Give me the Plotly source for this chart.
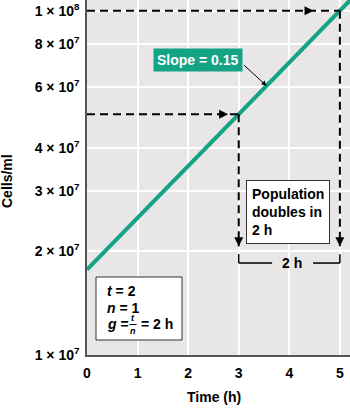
import plotly.graph_objects as go
import math

# ---- data ----
time_h = [0, 3, 5, 5.2]
cells_per_ml = [1.77e7, 5e7, 1e8, 1.072e8]

x_ticks = [0, 1, 2, 3, 4, 5]
y_ticks = [1e7, 2e7, 3e7, 4e7, 6e7, 8e7, 1e8]
y_tick_text = ["1 × 10<sup>7</sup>", "2 × 10<sup>7</sup>", "3 × 10<sup>7</sup>",
               "4 × 10<sup>7</sup>", "6 × 10<sup>7</sup>", "8 × 10<sup>7</sup>",
               "1 × 10<sup>8</sup>"]

doubling_time = [3, 5]          # h
doubling_cells = [5e7, 1e8]     # cells/ml
arrow_tip_cells = 2.07e7        # where vertical dashed arrows end
horiz_arrow_tip = [2.79, 4.48]  # x of arrowheads on horizontal dashed lines
slope_point = (3.55, 6.05e7)

GREEN = "#14a385"
FONT = "Liberation Sans"

fig = go.Figure()
fig.add_trace(go.Scatter(x=time_h, y=cells_per_ml, mode="lines",
                         line=dict(color=GREEN, width=4), hoverinfo="skip",
                         showlegend=False))

shapes = []
annotations = []


def ann(**kw):
    kw.setdefault("xanchor", "center")
    kw.setdefault("yanchor", "middle")
    annotations.append(kw)


dash = dict(color="black", width=2, dash="8px,5px")
for t, c, hx in zip(doubling_time, doubling_cells, horiz_arrow_tip):
    shapes.append(dict(type="line", xref="x", yref="y", x0=0, x1=t, y0=c, y1=c, line=dash))
    shapes.append(dict(type="line", xref="x", yref="y", x0=t, x1=t, y0=c, y1=arrow_tip_cells, line=dash))
    ann(x=hx, y=math.log10(c), xref="x", yref="y", text="", showarrow=True,
        ax=-8, ay=0, arrowhead=2, arrowsize=1.2, arrowwidth=1.5, arrowcolor="black")
    ann(x=t, y=math.log10(arrow_tip_cells), xref="x", yref="y", text="", showarrow=True,
        ax=0, ay=-8, arrowhead=2, arrowsize=1.2, arrowwidth=1.5, arrowcolor="black")

# bracket "2 h"
br_top, br_bot = 0.284, 0.259
for t in doubling_time:
    shapes.append(dict(type="line", xref="x", yref="paper", x0=t, x1=t, y0=br_top, y1=br_bot,
                       line=dict(color="black", width=1.5)))
shapes.append(dict(type="line", xref="x", yref="paper", x0=doubling_time[0], x1=3.66, y0=br_bot, y1=br_bot,
                   line=dict(color="black", width=1.5)))
shapes.append(dict(type="line", xref="x", yref="paper", x0=4.47, x1=doubling_time[1], y0=br_bot, y1=br_bot,
                   line=dict(color="black", width=1.5)))
ann(x=4.05, y=br_bot, xref="x", yref="paper", text="<b>2 h</b>", showarrow=False,
    font=dict(family=FONT, size=14, color="black"))

# Population box
ann(x=0.764, y=0.404, xref="paper", yref="paper",
    text="<b>Population<br>doubles in<br>2 h</b>", align="left", showarrow=False,
    bgcolor="white", bordercolor="#333", borderwidth=1, borderpad=5,
    font=dict(family=FONT, size=14, color="black"))

# Slope label
ann(x=0.422, y=0.832, xref="paper", yref="paper", text="<b>Slope = 0.15</b>",
    showarrow=False, bgcolor=GREEN, borderpad=3,
    font=dict(family=FONT, size=14, color="white"))
ann(x=slope_point[0], y=math.log10(slope_point[1]), xref="x", yref="y", text="",
    showarrow=True, ax=-24, ay=-22, arrowhead=2, arrowsize=1, arrowwidth=1,
    arrowcolor="black")


def px_x(p):
    return (p - 87) / 263


def px_y(p):
    return 1 - p / 355


# bottom-left box
shapes.append(dict(type="rect", xref="paper", yref="paper", x0=px_x(96), x1=px_x(182),
                   y0=px_y(340), y1=px_y(277),
                   fillcolor="white", line=dict(color="#333", width=1), layer="above"))
for txt, py in [("<b><i>t</i> = 2</b>", 291), ("<b><i>n</i> = 1</b>", 307.5), ("<b><i>g</i> =</b>", 324)]:
    ann(x=px_x(105), y=px_y(py), xref="paper", yref="paper", text=txt,
        xanchor="left", showarrow=False, font=dict(family=FONT, size=14, color="black"))
ann(x=px_x(133), y=px_y(318), xref="paper", yref="paper", text="<b><i>t</i></b>",
    showarrow=False, font=dict(family=FONT, size=9, color="black"))
ann(x=px_x(133), y=px_y(331), xref="paper", yref="paper", text="<b><i>n</i></b>",
    showarrow=False, font=dict(family=FONT, size=9, color="black"))
shapes.append(dict(type="line", xref="paper", yref="paper", x0=px_x(129.5), x1=px_x(136.5),
                   y0=px_y(324.5), y1=px_y(324.5), line=dict(color="black", width=1)))
ann(x=px_x(139), y=px_y(324), xref="paper", yref="paper", text="<b>= 2 h</b>",
    xanchor="left", showarrow=False, font=dict(family=FONT, size=14, color="black"))

# axis titles
ann(x=px_x(7), y=px_y(181), xref="paper", yref="paper", text="<b>Cells/ml</b>",
    textangle=-90, showarrow=False, font=dict(family=FONT, size=14, color="black"))
ann(x=px_x(214), y=px_y(397), xref="paper", yref="paper", text="<b>Time (h)</b>",
    showarrow=False, font=dict(family=FONT, size=14, color="black"))

fig.update_layout(
    width=350, height=408,
    margin=dict(l=87, r=0, t=0, b=53),
    paper_bgcolor="white", plot_bgcolor="#e8e6e6",
    shapes=shapes, annotations=annotations, showlegend=False,
    xaxis=dict(range=[0, 5.2], tickvals=x_ticks, ticktext=[f"<b>{v}</b>" for v in x_ticks],
               showgrid=True, gridcolor="white", gridwidth=2, zeroline=False,
               showline=True, linecolor="#555", linewidth=1.5, automargin=False,
               ticks="outside", ticklen=4, tickcolor="rgba(0,0,0,0)",
               tickfont=dict(family=FONT, size=14, color="black")),
    yaxis=dict(type="log", range=[7, 8.031], tickvals=y_ticks,
               ticktext=[f"<b>{t}</b>" for t in y_tick_text],
               showgrid=True, gridcolor="white", gridwidth=2, zeroline=False,
               showline=True, linecolor="#555", linewidth=1.5, automargin=False,
               ticks="outside", ticklen=3, tickcolor="rgba(0,0,0,0)",
               tickfont=dict(family=FONT, size=14, color="black")),
)

fig.write_html("out.html")
